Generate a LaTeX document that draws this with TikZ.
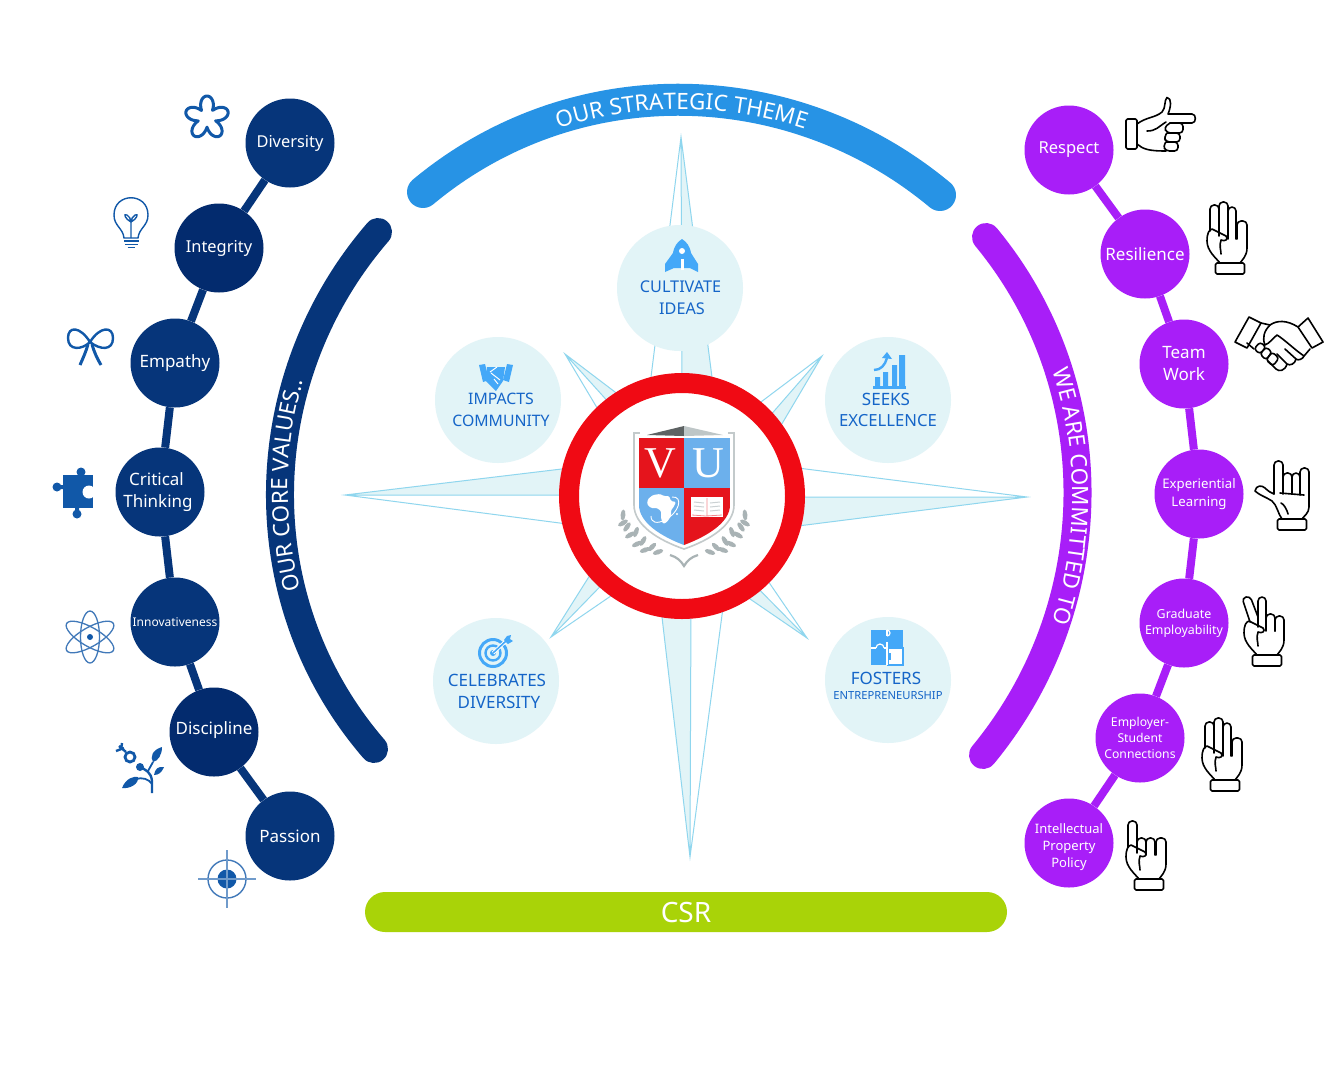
\documentclass[tikz,border=0pt]{standalone}
\usepackage{fontspec}
\setmainfont{Noto Sans}
\newfontfamily\serifvu{Liberation Serif}
\usetikzlibrary{decorations.text}
\definecolor{navyc}{HTML}{06357A}
\definecolor{navyd}{HTML}{032B6E}
\definecolor{purp}{HTML}{A81EF8}
\definecolor{bluearc}{HTML}{2793E5}
\definecolor{csrg}{HTML}{A9D308}
\definecolor{pale}{HTML}{E2F4F7}
\definecolor{star}{HTML}{8FD6EE}
\definecolor{ringred}{HTML}{F00A14}
\definecolor{capt}{HTML}{1565C8}
\definecolor{iconb}{HTML}{44A8F8}
\definecolor{icond}{HTML}{1158A8}
\definecolor{shred}{HTML}{E5141C}
\definecolor{shblue}{HTML}{6CB0EC}
\definecolor{lgrey}{HTML}{A9B3B5}
\newcommand\fsz[2]{\fontsize{#1}{#2}\selectfont}
\tikzset{
  x=1pt,y=-1pt,
  valnode/.style={circle,fill=navyc,text=white,minimum size=89pt,inner sep=0pt,align=center,font=\fsz{17}{22}},
  comnode/.style={circle,fill=purp,text=white,minimum size=89pt,inner sep=0pt,align=center,font=\fsz{17}{22}},
  navylink/.style={navyc,line width=8pt},
  purplink/.style={purp,line width=8pt},
  bigarc/.style={line width=#1,line cap=round},
  themecirc/.style={circle,fill=pale,minimum size=126pt,inner sep=0pt},
  captxt/.style={text=capt,inner sep=0pt,align=center,font=\fsz{17}{22}},
  starline/.style={star,line width=1pt},
  starfill/.style={fill=pale,draw=none},
  iconthin/.style={icond,line width=1.4pt},
  handline/.style={black,line width=1.6pt,line join=round,line cap=round},
}
\newcommand\archtext{\fontsize{22.5}{24}\selectfont\color{white}}
\newcommand\fing[4]{\draw[handline,rounded corners=4pt] (#1,#4)--(#1,#3)--(#2,#3)--(#2,#4);}
\newcommand\handbase{%
  \draw[handline,rounded corners=1.5pt] (-14.5,0) rectangle (14.5,11);
  \draw[handline] (17,-30) -- (17,-15) .. controls (17,-7) and (12,-3) .. (10,0) -- (-10,0)
     .. controls (-14,-5) and (-23,-12) .. (-23,-22) .. controls (-23,-30) and (-21,-33) .. (-18,-34)
     -- (-4,-27) .. controls (-1,-24) and (-5,-21) .. (-9,-23) .. controls (-11,-17) and (-9,-13) .. (-9,-9);
}
\begin{document}
\begin{tikzpicture}
\useasboundingbox (0,0) rectangle (1343,1080);
\fill[white] (0,0) rectangle (1343,1080);

% ---- compass star
\fill[starfill] (681,137)--(682,385)--(713,385)--cycle;
\fill[starfill] (690,857)--(691,600)--(660,600)--cycle;
\fill[starfill] (345,495)--(575,495)--(575,467.4)--cycle;
\fill[starfill] (1027,497)--(790,497)--(790,527)--cycle;
\fill[starfill] (822,356)--(755,433)--(770,444)--cycle;
\fill[starfill] (565,354)--(640,411)--(630,426)--cycle;
\fill[starfill] (551,637)--(607,548)--(625,561)--cycle;
\fill[starfill] (807,638)--(735,565)--(715,575)--cycle;
\draw[starline] (650,385)--(681,137)--(713,385) (681,137)--(682,385);
\draw[starline] (660,600)--(690,857)--(724,600) (690,857)--(691,600);
\draw[starline] (575,467.4)--(345,495)--(575,525) (345,495)--(575,495);
\draw[starline] (790,467)--(1027,497)--(790,527) (1027,497)--(790,497);
\draw[starline] (745,414)--(822,356)--(770,444) (822,356)--(755,433);
\draw[starline] (640,411)--(565,354)--(615,438) (565,354)--(630,426);
\draw[starline] (607,548)--(551,637)--(640,576) (551,637)--(625,561);
\draw[starline] (740,540)--(807,638)--(715,575) (807,638)--(735,565);

% ---- ring
\node[circle,draw=ringred,fill=white,line width=20pt,minimum size=226pt,inner sep=0pt] (ring) at (682,496) {};

% ---- shield
\draw[lgrey!70,fill=white,line width=1.6pt] (634,433)--(734,433)--(734,505) .. controls (734,525) and (710,540) .. (684,549) .. controls (658,540) and (634,525) .. (634,505) -- cycle;
\begin{scope}
\clip (639,438)--(730,438)--(730,505) .. controls (730,522) and (708,536) .. (684,545) .. controls (660,536) and (639,522) .. (639,505) -- cycle;
\fill[shred] (639,438) rectangle (684,488);
\fill[shblue] (684,438) rectangle (730,488);
\fill[shblue] (639,488) rectangle (684,546);
\fill[shred] (684,488) rectangle (730,546);
\end{scope}
\fill[white] (640,432) rectangle (728,434);
\fill[black!45!lgrey] (647,435)--(684,426)--(684,436)--cycle;
\fill[lgrey!75] (723,435)--(684,426)--(684,436)--cycle;
\node[text=white,inner sep=0pt,font=\serifvu\fontsize{44}{44}\selectfont] (letv) at (660,463) {V};
\node[text=white,inner sep=0pt,font=\serifvu\fontsize{44}{44}\selectfont] (letu) at (708,463) {U};
% Africa
\fill[white,rounded corners=1.2pt] (648,499)--(653,495)--(660,494)--(664,496)--(669,496)--(671,501)--(676,502)--(673,508)--(671,510)--(671,516)--(667,522)--(663,524)--(661,518)--(661,511)--(657,508)--(651,508)--(647,504)--cycle;
\draw[white,line width=0.9pt] (672,497) .. controls (684,496) and (679,513) .. (665,520) .. controls (657,524) and (651,523) .. (651,516);
\fill[white] (677,514) circle (1.1pt);
% book
\fill[white] (691,497) rectangle (723,517);
\draw[shred!50,line width=0.8pt] (692,515) -- (706,516) -- (722,515) (707,498) -- (707,516);
\draw[lgrey!60,line width=1pt] (694,502)--(704,503) (694,506)--(704,507) (694,510)--(704,511) (710,503)--(720,502) (710,507)--(720,506) (710,511)--(720,510);
% laurels
\foreach \sx in {1,-1}{
  \begin{scope}[shift={(684,0)},xscale=\sx]
  \foreach \lx/\ly/\lr in {-61/515/85,-57/527/55,-61/523/30,-48/532/70,-54/535/30,-41/541/60,-47/544/25,-32/547/45,-39/550/20,-26/552/20}{
    \fill[lgrey] (\lx,\ly) ellipse[x radius=5.5pt,y radius=2.4pt,rotate=\lr];
  }
  \end{scope}
}
\draw[lgrey,line width=2.2pt] (670,555) .. controls (677,557) and (681,561) .. (684,566) .. controls (687,561) and (691,557) .. (698,555);

% ---- theme circles
\node[themecirc] (cultcirc) at (680,288) {};
\node[themecirc] (impcirc) at (498,400) {};
\node[themecirc] (seekcirc) at (888,400) {};
\node[themecirc] (celcirc) at (496,681) {};
\node[themecirc] (foscirc) at (888,680) {};
\node[captxt,font=\fsz{16.2}{20}] (cult1) at (680.5,287) {CULTIVATE};
\node[captxt,font=\fsz{16.2}{20}] (cult2) at (682,309) {IDEAS};
\node[captxt,font=\fsz{15.8}{20}] (imp1) at (501,399) {IMPACTS};
\node[captxt,font=\fsz{15.8}{20}] (imp2) at (501,421) {COMMUNITY};
\node[captxt] (seek1) at (886,399) {SEEKS};
\node[captxt,font=\fsz{16.7}{20}] (seek2) at (888,421) {EXCELLENCE};
\node[captxt] (cel1) at (497,680) {CELEBRATES};
\node[captxt] (cel2) at (499,702) {DIVERSITY};
\node[captxt] (fos1) at (886,678) {FOSTERS};
\node[captxt,font=\fsz{11.2}{14}] (fos2) at (888,695) {ENTREPRENEURSHIP};

% rocket
\fill[iconb] (682,239) .. controls (692,245) and (693,258) .. (690,268) -- (674,268) .. controls (671,258) and (672,245) .. (682,239) -- cycle;
\fill[iconb] (673,253) -- (665,264) -- (665,272) -- (674,268) -- cycle;
\fill[iconb] (691,253) -- (698,264) -- (698,272) -- (690,268) -- cycle;
\fill[white] (682,251) circle (3pt);
\fill[white] (680.5,259) rectangle (683.5,270);
% small handshake
\fill[iconb] (479,365)--(485,364)--(489,380)--(483,382)--cycle;
\fill[iconb] (513,365)--(507,364)--(503,380)--(509,382)--cycle;
\fill[iconb] (487,367)--(505,367)--(503,381)--(496,391)--(486,381)--cycle;
\draw[white,line width=1pt] (490,372)--(497,367) (491,373)--(500,380) (494,379)--(498,384);
% small chart
\fill[iconb] (875,377) rectangle (880,387) (883,372) rectangle (888,387) (892,365) rectangle (897,387) (899,355) rectangle (905,387);
\fill[iconb] (873,386) rectangle (906,388.5);
\draw[iconb,line width=2.4pt] (874,370) .. controls (881,370) and (885,365) .. (887,358);
\fill[iconb] (887,352)--(892,359)--(882,358)--cycle;
% small target
\draw[iconb,line width=3pt] (493,653) circle (13.5pt);
\draw[iconb,line width=2.4pt] (493,653) circle (7.5pt);
\fill[iconb] (493,653) circle (3pt);
\draw[white,line width=3.5pt] (493,653)--(506,641);
\draw[iconb,line width=1.6pt] (493,653)--(506,641);
\fill[iconb] (504,640)--(507,636)--(511,635)--(510,639)--(513,641)--(508,644)--cycle;
% small puzzle
\fill[iconb] (871,630) rectangle (903,665);
\fill[white] (888,648) rectangle (903.5,665.5);
\draw[iconb,line width=1.4pt] (888,648) rectangle (903,665);
\draw[white,line width=1.2pt] (887,630)--(887,636) (887,642)--(887,648) (871,648)--(876,648) (884,648)--(887,648) (887,648)--(887,665);
\draw[white,line width=1.2pt] (887,636) arc[start angle=-90,end angle=90,radius=3pt];
\draw[white,line width=1.2pt] (876,648) arc[start angle=180,end angle=0,radius=4pt];
\draw[iconb,line width=1.2pt] (893,648) arc[start angle=180,end angle=0,radius=3pt];
\fill[iconb] (888,653) rectangle (891,660);

% ---- big arcs
\draw[bluearc,bigarc=32pt] (423,192) .. controls (573,67) and (790,70) .. (940,195);
\path[decorate,decoration={text along path,text align=center,text={|\archtext|OUR STRATEGIC THEME}}]
  (428.6,201) .. controls (575.6,78.7) and (788.4,78.7) .. (935.4,201);
\draw[navyc,bigarc=28pt] (378,232) .. controls (250,380) and (246,601) .. (374,749);
\path[decorate,rotate around={-0.74:(675,490)},decoration={text along path,text align=center,text={|\archtext|OUR CORE VALUES..}}]
  (382,743) .. controls (256.4,598) and (256.4,382) .. (382,237);
\draw[purp,bigarc=28pt] (986,237) .. controls (1110,387) and (1107,605) .. (983,755);
\path[decorate,decoration={text along path,text align=center,text={|\archtext|WE ARE COMMITTED TO}}]
  (981.6,242.2) .. controls (1103,389.5) and (1103,602.5) .. (981.6,749.8);

% ---- CSR
\node[fill=csrg,text=white,rounded corners=20pt,minimum width=642pt,minimum height=40pt,inner sep=0pt,font=\fsz{28}{30}] (csr) at (686,912) {CSR};

% ---- value nodes
\node[valnode,font=\fsz{16.4}{22}] (v1) at (290,143) {Diversity};
\node[valnode,fill=navyd,font=\fsz{16.4}{22}] (v2) at (219,248) {Integrity};
\node[valnode] (v3) at (175,363) {Empathy};
\node[valnode] (v4) at (160,492) {Critical\hspace*{7pt}\\Thinking\hspace*{4pt}};
\node[valnode,font=\fsz{12}{16}] (v5) at (175,622) {Innovativeness};
\node[valnode,fill=navyd] (v6) at (214,732) {Discipline\rule[-8pt]{0pt}{0pt}};
\node[valnode] (v7) at (290,836) {Passion};
\foreach \a/\b in {v1/v2,v2/v3,v3/v4,v4/v5,v5/v6,v6/v7}{ \draw[navylink] (\a) -- (\b); }

% ---- commitment nodes
\node[comnode,font=\fsz{16.5}{22}] (c1) at (1069,150) {Respect};
\node[comnode] (c2) at (1145,254) {Resilience};
\node[comnode] (c3) at (1184,364) {Team\\Work};
\node[comnode,font=\fsz{13.2}{18}] (c4) at (1199,494) {Experiential\\Learning};
\node[comnode,font=\fsz{12.4}{16}] (c5) at (1184,623) {Graduate\\Employability};
\node[comnode,font=\fsz{12.2}{16}] (c6) at (1140,738) {Employer-\\Student\\Connections};
\node[comnode,font=\fsz{13}{17}] (c7) at (1069,843) {\rule{0pt}{19pt}Intellectual\\Property\\Policy};
\foreach \a/\b in {c1/c2,c2/c3,c3/c4,c4/c5,c5/c6,c6/c7}{ \draw[purplink] (\a) -- (\b); }

% ---- left icons
% flower
\draw[icond,line width=3pt,line join=round] plot[domain=0:356,samples=120,smooth] ({207+(9+13*abs(cos(2.5*(\x+90))))*cos(\x)},{118+(9+13*abs(cos(2.5*(\x+90))))*sin(\x)}) -- cycle;
% bulb
\draw[iconthin] (124,238) .. controls (123,228) and (114,226) .. (114,215) .. controls (114,192) and (148,192) .. (148,215) .. controls (148,226) and (139,228) .. (138,238) -- cycle;
\draw[iconthin] (124,241)--(139,241) (125,244.5)--(138,244.5) (127.5,247.5)--(135,247.5);
\draw[iconthin] (131,238)--(131,222) .. controls (125,219) and (123,213) .. (127,215) .. controls (129,216) and (131,219) .. (131,222) .. controls (137,219) and (139,213) .. (135,215) .. controls (133,216) and (131,219) .. (131,222);
% bow
\draw[icond,line width=2.4pt] (90,342) .. controls (80,326) and (68,326) .. (68,338) .. controls (68,351) and (82,350) .. (90,342) .. controls (100,350) and (113,351) .. (113,338) .. controls (113,326) and (100,326) .. (90,342);
\draw[icond,line width=3pt] (88,344) .. controls (86,352) and (83,358) .. (80,365) (92,344) .. controls (94,352) and (97,358) .. (101,365);
% puzzle
\fill[icond] (63,475) rectangle (93,508);
\fill[icond] (81,472) circle (4.5pt) (57,487) circle (4.5pt) (77,514) circle (4.5pt);
\fill[icond] (79,470) rectangle (83,478) (54,485) rectangle (65,489) (75,505) rectangle (79,514);
\fill[white] (89,492) circle (6.5pt) (93.5,487) rectangle (97,497);
\fill[white] (89,490) rectangle (97,494);
% atom
\draw[icond!80,line width=1.3pt] (90,637) ellipse[x radius=9.5pt,y radius=26pt];
\draw[icond!80,line width=1.3pt] (90,637) ellipse[x radius=27pt,y radius=9.5pt,rotate=30];
\draw[icond!80,line width=1.3pt] (90,637) ellipse[x radius=27pt,y radius=9.5pt,rotate=-30];
\fill[icond] (90,637) circle (3pt);
% plant
\draw[icond,line width=2.4pt] (152,793) -- (152,781) .. controls (151,772) and (146,770) .. (140,767);
\draw[icond,line width=2.8pt] (130,757) circle (5pt);
\draw[icond,line width=2.4pt] (126,752) -- (119,746) (116,751) -- (124,748) (122,743) -- (121,750);
\fill[icond] (140,767) circle (4pt);
\fill[icond] (122,788) .. controls (126,778) and (134,776) .. (138,777) .. controls (139,784) and (130,789) .. (122,788) -- cycle;
\draw[icond,line width=1.8pt] (136,779) .. controls (142,777) and (149,779) .. (152,784);
\fill[icond] (162,747) .. controls (152,750) and (150,757) .. (153,762) .. controls (158,761) and (162,755) .. (162,747) -- cycle;
\draw[icond,line width=1.8pt] (153,762) -- (148,771);
\fill[icond] (164,767) .. controls (158,766) and (155,769) .. (154,775) .. controls (159,775) and (162,772) .. (164,767) -- cycle;
% crosshair target
\draw[iconthin,icond!80] (227,879) circle (19pt);
\fill[icond] (227,879) circle (9.5pt);
\draw[iconthin,icond!60] (198,879)--(256,879) (227,850)--(227,908);

% ---- right icons: pointing right
\draw[handline,rounded corners=1.5pt] (1126,119) rectangle (1137,149);
\draw[handline] (1137,124) .. controls (1146,117) and (1155,118) .. (1162,112) .. controls (1166,108) and (1164,100) .. (1167,97.5) .. controls (1172,98) and (1171,107) .. (1168,114) -- (1192,114) .. controls (1196.5,114) and (1196.5,123) .. (1192,123) -- (1170,123);
\draw[handline,rounded corners=3.5pt] (1170,123)--(1183,123)--(1183,133)--(1167,133)--(1164,127.5)--(1170,123);
\draw[handline,rounded corners=3.5pt] (1167,133)--(1180,133)--(1180,142)--(1166,142)--(1164,137)--(1167,133);
\draw[handline,rounded corners=3.5pt] (1166,142)--(1178,142)--(1178,151)--(1166,151)--(1163,146)--(1166,142);
\draw[handline] (1137,144) .. controls (1143,149) and (1148,151) .. (1166,151);
\draw[handline] (1166,122) .. controls (1158,127) and (1156,131) .. (1147,131);
% resilience
\begin{scope}[shift={(1230,263)}]
\handbase
\fing{-20}{-11}{-58}{-32} \fing{-11}{-2}{-61}{-27} \fing{-2}{6}{-56}{-24} \fing{7}{17}{-42}{-24}
\end{scope}
% employer-student
\begin{scope}[shift={(1225,780)}]
\handbase
\fing{-20}{-11}{-58}{-32} \fing{-11}{-2}{-62}{-27} \fing{-2}{6}{-57}{-24} \fing{7}{17}{-42}{-24}
\end{scope}
% graduate
\begin{scope}[shift={(1267,655)}]
\handbase
\draw[handline,rounded corners=4pt] (-17,-33)--(-25,-57)--(-17,-59)--(-9,-38);
\fing{-9}{-1}{-58}{-28} \fing{-1}{8}{-41}{-24} \fing{8}{17}{-39}{-24}
\end{scope}
% experiential
\begin{scope}[shift={(1292,519)}]
\draw[handline,rounded corners=1.5pt] (-14.5,0) rectangle (14.5,11);
\draw[handline] (17,-33)--(17,-12) .. controls (17,-6) and (12,-3) .. (10,0) -- (-10,0) .. controls (-14,-5) and (-15,-14) .. (-20,-18) .. controls (-26,-22) and (-33,-24) .. (-37,-28) .. controls (-36,-34) and (-30,-34) .. (-27,-31) .. controls (-24,-28) and (-21,-26) .. (-18,-25);
\draw[handline] (-12,-26) -- (12,-24) (-11,-16) .. controls (-8,-15) and (-5,-9) .. (-4,-5);
\fing{-18}{-9}{-58}{-25} \fing{-9}{0}{-46}{-26} \fing{0}{8}{-46}{-26} \fing{8}{17}{-51}{-24}
\end{scope}
% intellectual
\begin{scope}[shift={(1149,879)}]
\handbase
\fing{-21}{-12}{-58}{-32} \fing{-12}{-3}{-41}{-26} \fing{-3}{6}{-41}{-24} \fing{7}{17}{-41}{-24}
\end{scope}
% handshake
\draw[handline,line join=round] (1235,342)--(1249,317)--(1261,323)--(1247,348)--cycle;
\draw[handline] (1298,327)--(1308,318)--(1323,342)--(1312,348)--cycle;
\draw[handline] (1261,323)--(1270,325) .. controls (1277,320) and (1287,320) .. (1298,327);
\draw[handline] (1270,325) .. controls (1264,331) and (1262,338) .. (1265,345) .. controls (1270,343) and (1273,338) .. (1277,335) .. controls (1285,340) and (1295,350) .. (1304,356) -- (1310,349);
\draw[handline] (1247,343) -- (1254,349) (1304,356) .. controls (1303,359) and (1298,361) .. (1296,359) (1296,359) -- (1285,349) (1296,359) .. controls (1295,364) and (1290,366) .. (1287,364) -- (1277,354) (1287,364) .. controls (1285,371) and (1279,372) .. (1276,369) -- (1268,361);
\draw[handline,rounded corners=3pt] (1254,349)--(1260,342)--(1266,347)--(1260,354)--cycle;
\draw[handline,rounded corners=3pt] (1260,354)--(1266,347)--(1272,352)--(1266,360)--cycle;
\draw[handline,rounded corners=3pt] (1266,360)--(1272,352)--(1279,358)--(1273,366)--cycle;
\end{tikzpicture}
\end{document}
